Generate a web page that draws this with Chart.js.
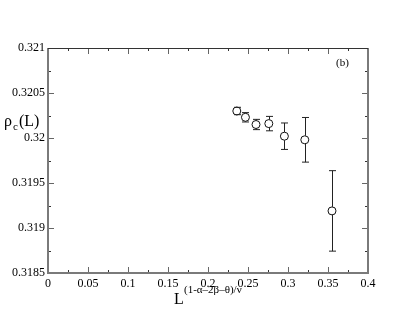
<!DOCTYPE html>
<html>
<head>
<meta charset="utf-8">
<script src="https://cdn.jsdelivr.net/npm/chart.js@4"></script>
<style>
  html, body { margin: 0; padding: 0; background: #fff; }
  #wrap { width: 415px; height: 321px; }
</style>
</head>
<body>
<div id="wrap"><canvas id="chart" width="415" height="321"></canvas></div>
<script>
// data
const xValues = [0.236, 0.2468, 0.260, 0.276, 0.2955, 0.321, 0.355];
const rhoValues = [0.32030, 0.32023, 0.32015, 0.32016, 0.32002, 0.31998, 0.31919];
const rhoErrors = [0.000041, 0.000052, 0.000057, 0.00008, 0.000147, 0.000248, 0.000447];

const xTicks = [0, 0.05, 0.1, 0.15, 0.2, 0.25, 0.3, 0.35, 0.4];
const yTicks = [0.3185, 0.319, 0.3195, 0.32, 0.3205, 0.321];

const serif = '"Liberation Serif", "DejaVu Serif", serif';

// error bars + frame + inward ticks + axis titles
const decor = {
    id: 'decor',
    afterDatasetsDraw(chart) {
        const ctx = chart.ctx;
        const xs = chart.scales.x, ys = chart.scales.y;
        ctx.save();
        ctx.strokeStyle = '#222';
        ctx.lineWidth = 1;
        xValues.forEach((xv, i) => {
            const px = Math.round(xs.getPixelForValue(xv)) + 0.5;
            const top = ys.getPixelForValue(rhoValues[i] + rhoErrors[i]);
            const bot = ys.getPixelForValue(rhoValues[i] - rhoErrors[i]);
            const cy = ys.getPixelForValue(rhoValues[i]);
            ctx.beginPath();
            ctx.moveTo(px, top); ctx.lineTo(px, Math.max(top, cy - 4));
            ctx.moveTo(px, Math.min(bot, cy + 4)); ctx.lineTo(px, bot);
            ctx.moveTo(px - 3.5, top); ctx.lineTo(px + 3.5, top);
            ctx.moveTo(px - 3.5, bot); ctx.lineTo(px + 3.5, bot);
            ctx.stroke();
        });
        ctx.restore();
    },
    afterDraw(chart) {
        const ctx = chart.ctx;
        const a = chart.chartArea;
        const xs = chart.scales.x, ys = chart.scales.y;
        ctx.save();

        // ticks
        const tick = (x1, y1, x2, y2, col) => {
            ctx.strokeStyle = col;
            ctx.beginPath(); ctx.moveTo(x1, y1); ctx.lineTo(x2, y2); ctx.stroke();
        };
        ctx.lineWidth = 1;
        xTicks.forEach((v, i) => {
            const p = Math.round(xs.getPixelForValue(v)) + 0.5;
            tick(p, a.bottom, p, a.bottom - 6, '#666');
            tick(p, a.top, p, a.top + 6, '#666');
            if (i < xTicks.length - 1) {
                const m = Math.round(xs.getPixelForValue(v + 0.025)) + 0.5;
                tick(m, a.bottom, m, a.bottom - 3, '#333');
                tick(m, a.top, m, a.top + 3, '#333');
            }
        });
        yTicks.forEach((v, i) => {
            const p = Math.round(ys.getPixelForValue(v)) + 0.5;
            tick(a.left, p, a.left + 6, p, '#666');
            tick(a.right, p, a.right - 6, p, '#666');
            if (i < yTicks.length - 1) {
                const m = Math.round(ys.getPixelForValue(v + 0.00025)) + 0.5;
                tick(a.left, m, a.left + 3, m, '#333');
                tick(a.right, m, a.right - 3, m, '#333');
            }
        });

        // frame
        ctx.strokeStyle = '#7a7a7a';
        ctx.lineWidth = 2;
        ctx.beginPath();
        ctx.moveTo(a.left, a.top); ctx.lineTo(a.left, a.bottom);
        ctx.lineTo(a.right, a.bottom); ctx.lineTo(a.right, a.top);
        ctx.stroke();
        ctx.strokeStyle = '#333';
        ctx.lineWidth = 1;
        ctx.beginPath();
        ctx.moveTo(a.left, a.top + 0.5); ctx.lineTo(a.right, a.top + 0.5);
        ctx.stroke();

        // texts
        ctx.fillStyle = '#000';
        ctx.textBaseline = 'alphabetic';
        ctx.textAlign = 'left';
        ctx.font = '11px ' + serif;
        ctx.fillText('(b)', 336, 66);

        ctx.font = '16px ' + serif;
        ctx.fillText('\u03c1', 4, 126);
        ctx.font = '11px ' + serif;
        ctx.fillText('c', 13, 130);
        ctx.font = '16px ' + serif;
        ctx.fillText('(L)', 19, 126);

        ctx.font = '16px ' + serif;
        ctx.fillText('L', 174, 304);
        ctx.font = '11px ' + serif;
        ctx.fillText('(1-\u03b1\u20132\u03b2\u2013\u03b8)/\u03bd', 184, 293);
        ctx.restore();
    }
};

new Chart(document.getElementById('chart'), {
    type: 'scatter',
    data: {
        datasets: [{
            data: xValues.map((x, i) => ({ x: x, y: rhoValues[i] })),
            pointStyle: 'circle',
            pointRadius: 4,
            pointHoverRadius: 4,
            borderColor: '#111',
            borderWidth: 1,
            backgroundColor: 'rgba(0,0,0,0)'
        }]
    },
    options: {
        responsive: false,
        animation: false,
        layout: { padding: { left: 0, top: 48, right: 47, bottom: 0 } },
        plugins: { legend: { display: false }, tooltip: { enabled: false } },
        scales: {
            x: {
                type: 'linear', min: 0, max: 0.4,
                afterBuildTicks: s => { s.ticks = xTicks.map(v => ({ value: v })); },
                afterFit: s => { s.height = 48; },
                grid: { display: false, drawTicks: false },
                border: { display: false },
                ticks: {
                    padding: 4,
                    color: '#000',
                    font: { family: serif, size: 12 },
                    callback: v => String(+v.toFixed(3))
                }
            },
            y: {
                type: 'linear', min: 0.3185, max: 0.321,
                afterBuildTicks: s => { s.ticks = yTicks.map(v => ({ value: v })); },
                afterFit: s => { s.width = 48; },
                grid: { display: false, drawTicks: false },
                border: { display: false },
                ticks: {
                    padding: 3,
                    color: '#000',
                    font: { family: serif, size: 12 },
                    callback: v => String(+v.toFixed(4))
                }
            }
        }
    },
    plugins: [decor]
});
</script>
</body>
</html>
